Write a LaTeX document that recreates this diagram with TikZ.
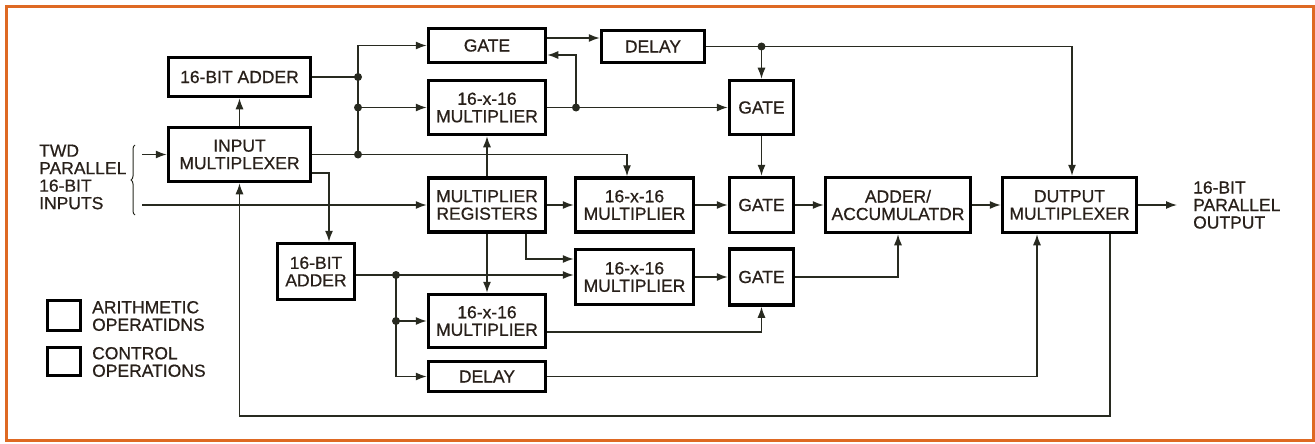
\documentclass[tikz,border=0pt]{standalone}
\usepackage{fontspec}
\setmainfont{Liberation Sans}
\newfontfamily\medfont{Liberation Sans}[FakeBold=0.6]
\usetikzlibrary{arrows.meta,decorations.pathreplacing}
\definecolor{frameor}{RGB}{222,105,35}
\definecolor{linec}{RGB}{40,42,32}
\definecolor{txtc}{RGB}{40,32,26}
\tikzset{
  blk/.style={draw=black,line width=3.5pt,fill=white,inner sep=0pt,align=center,text=txtc,
     font=\medfont\fontsize{17.5}{17.5}\selectfont},
  conn/.style={draw=linec,line width=1.3pt},
  arr/.style={conn,-{Latex[length=11pt,width=8pt]}},
  dot/.style={circle,fill=linec,inner sep=0pt,minimum size=8pt},
  lbl/.style={align=left,text=txtc,inner sep=0pt,font=\medfont\fontsize{17.5}{17.5}\selectfont}
}
\begin{document}
\begin{tikzpicture}[x=1pt,y=-1pt]
\useasboundingbox (0,0) rectangle (1315,444);
\draw[frameor,line width=3pt] (6,7) rectangle (1313,440);

% blocks
\node[blk,minimum width=142pt,minimum height=39pt] (add1) at (239.5,77) {16-BIT ADDER};
\node[blk,minimum width=142pt,minimum height=54pt] (imux) at (239.5,154.5) {INPUT\\MULTIPLEXER};
\node[blk,minimum width=117pt,minimum height=34pt] (gate1) at (487,45.5) {GATE};
\node[blk,minimum width=103pt,minimum height=32pt] (delay1) at (653,46.5) {DELAY};
\node[blk,minimum width=117pt,minimum height=54pt] (mul1) at (487,107.5) {16-x-16\\MULTIPLIER};
\node[blk,minimum width=64pt,minimum height=54pt] (gate2) at (761.5,107.5) {GATE};
\node[blk,minimum width=117pt,minimum height=54pt] (mreg) at (487,205) {MULTIPLIER\\REGISTERS};
\node[blk,minimum width=118pt,minimum height=54pt] (mul2) at (634.5,205) {16-x-16\\MULTIPLIER};
\node[blk,minimum width=64pt,minimum height=55pt] (gate3) at (761.5,205) {GATE};
\node[blk,minimum width=145pt,minimum height=55pt] (acc) at (898,205) {ADDER/\\ACCUMULATDR};
\node[blk,minimum width=134pt,minimum height=55pt] (omux) at (1069.5,205) {DUTPUT\\MULTIPLEXER};
\node[blk,minimum width=77pt,minimum height=56pt] (add2) at (316,271.5) {16-BIT\\ADDER};
\node[blk,minimum width=118pt,minimum height=55pt] (mul3) at (634.5,277) {16-x-16\\MULTIPLIER};
\node[blk,minimum width=64pt,minimum height=56pt] (gate4) at (761.5,277) {GATE};
\node[blk,minimum width=117pt,minimum height=53pt] (mul4) at (487,321) {16-x-16\\MULTIPLIER};
\node[blk,minimum width=117pt,minimum height=30pt] (delay2) at (487,376.5) {DELAY};

% legend
\node[blk,minimum width=33pt,minimum height=30pt] (leg1) at (64,315.5) {};
\node[blk,minimum width=33pt,minimum height=28pt] (leg2) at (64,361.5) {};
\node[lbl,anchor=west] (legt1) at (92,316) {ARITHMETIC\\OPERATIDNS};
\node[lbl,anchor=west] (legt2) at (92,362) {CONTROL\\OPERATIONS};

% labels
\node[lbl,anchor=west] (inlbl) at (39,177) {TWD\\PARALLEL\\16-BIT\\INPUTS};
\node[lbl,anchor=west] (outlbl) at (1193,205) {16-BIT\\PARALLEL\\OUTPUT};

% coordinates
\coordinate (j1) at (358,77);
\coordinate (j2) at (358,107.5);
\coordinate (j3) at (358,154.5);
\coordinate (c1) at (627,154.5);
\coordinate (t2) at (329,173);
\coordinate (in1) at (142,154.5);
\coordinate (in2) at (142,205);
\coordinate (t3) at (526,259);
\coordinate (j4) at (396,275);
\coordinate (j5) at (396,321);
\coordinate (c5) at (396,376.5);
\coordinate (j6) at (576,107.5);
\coordinate (c6) at (576,55);
\coordinate (j7) at (761.5,46.5);
\coordinate (c7) at (1072,46.5);
\coordinate (c9) at (1037,376.5);
\coordinate (f1) at (1110,416);
\coordinate (f2) at (239.5,416);
\coordinate (out) at (1177,205);
\coordinate (br1) at (135,215);
\coordinate (br2) at (135,145);

% brace
\draw[linec,line width=1pt,decorate,decoration={brace,amplitude=4pt}] (br1) -- (br2);

% connectors
\draw[arr] (in1) -- (imux.west);
\draw[arr] (in2) -- (mreg.west);
\draw[arr] (imux.north) -- (add1.south);
\draw[conn] (add1.east) -- (j1);
\draw[arr] (j1) |- (gate1.west);
\draw[conn] (j1) -- (j3);
\draw[arr] (j2) -- (mul1.west);
\draw[arr] (imux.east) -- (j3) -- (c1) -- (c1 |- mul2.north);
\draw[arr] (imux.east |- t2) -- (t2) -- (t2 |- add2.north);
\draw[arr] (mreg.north) -- (mul1.south);
\draw[arr] (mreg.east) -- (mul2.west);
\draw[arr] (mreg.south) -- (mul4.north);
\draw[arr] (mreg.south -| t3) -- (t3) -- (t3 -| mul3.west);
\draw[conn] (add2.east |- j4) -- (j4);
\draw[arr] (j4) -- (j4 -| mul3.west);
\draw[conn] (j4) -- (c5);
\draw[arr] (c5) -- (delay2.west);
\draw[arr] (j5) -- (mul4.west);
\draw[conn] (mul1.east) -- (j6);
\draw[arr] (j6) -- (gate2.west);
\draw[arr] (j6) -- (c6) -- (c6 -| gate1.east);
\draw[arr] ([yshift=7.5pt]gate1.east) -- ([yshift=7.5pt]gate1.east -| delay1.west);
\draw[conn] (delay1.east) -- (j7);
\draw[arr] (j7) -- (gate2.north);
\draw[arr] (j7) -- (c7) -- (c7 |- omux.north);
\draw[arr] (gate2.south) -- (gate3.north);
\draw[arr] (mul2.east) -- (gate3.west);
\draw[arr] (gate3.east) -- (acc.west);
\draw[arr] (acc.east) -- (omux.west);
\draw[arr] (omux.east) -- (out);
\draw[arr] (mul3.east) -- (gate4.west);
\draw[arr] (gate4.east) -| (acc.south);
\draw[arr] ([yshift=-11pt]mul4.east) -| (gate4.south);
\draw[arr] (delay2.east) -- (c9) -- (c9 |- omux.south);
\draw[arr] (f1 |- omux.south) -- (f1) -- (f2) -- (imux.south);

% junction dots
\foreach \p in {j1,j2,j3,j4,j5,j6,j7} \node[dot] at (\p) {};
\end{tikzpicture}
\end{document}
